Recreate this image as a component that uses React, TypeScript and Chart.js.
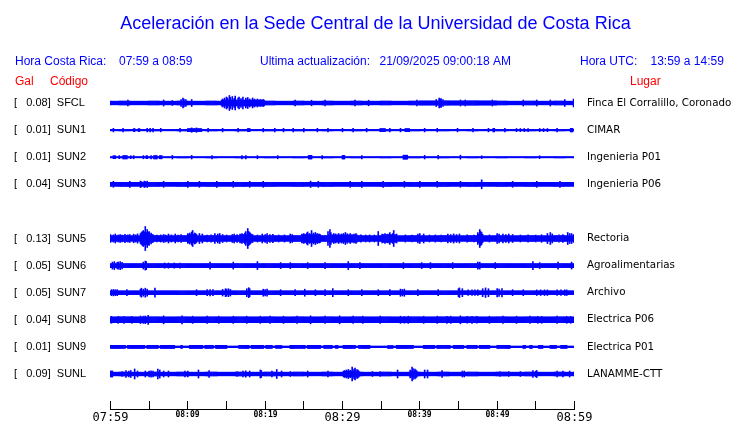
import React, { useEffect, useRef } from 'react';
import { Chart, registerables } from 'chart.js';

Chart.register(...registerables);

// ---------- texts ----------
const TITLE = 'Aceleración en la Sede Central de la Universidad de Costa Rica';
const HEADER_CR_LABEL = 'Hora Costa Rica:';
const HEADER_CR_RANGE = '07:59 a 08:59';
const HEADER_UPDATE_LABEL = 'Ultima actualización:';
const HEADER_UPDATE_VALUE = '21/09/2025 09:00:18 AM';
const HEADER_UTC_LABEL = 'Hora UTC:';
const HEADER_UTC_RANGE = '13:59 a 14:59';
const COL_GAL = 'Gal';
const COL_CODE = 'Código';
const COL_PLACE = 'Lugar';

// ---------- stations ----------
const CODES = ['SFCL', 'SUN1', 'SUN2', 'SUN3', 'SUN5', 'SUN6', 'SUN7', 'SUN8', 'SUN9', 'SUNL'];
const GAL = [0.08, 0.01, 0.01, 0.04, 0.13, 0.05, 0.05, 0.04, 0.01, 0.09];
const PLACES = [
  'Finca El Corralillo, Coronado',
  'CIMAR',
  'Ingenieria P01',
  'Ingenieria P06',
  'Rectoria',
  'Agroalimentarias',
  'Archivo',
  'Electrica P06',
  'Electrica P01',
  'LANAMME-CTT',
];
// row slot of each trace (slot 4, SUN4, is empty)
const ROWS = [0, 1, 2, 3, 5, 6, 7, 8, 9, 10];
// background (noise) half-amplitude of each trace, relative units
const BASE = [1.8, 0.7, 0.6, 2.0, 2.8, 2.0, 1.9, 2.9, 0.8, 1.8];

// time axis: minutes after 07:59
const X_TICK_MINUTES = [0, 5, 10, 15, 20, 25, 30, 35, 40, 45, 50, 55, 60];
const X_TICK_LABELS = ['07:59', '', '08:09', '', '08:19', '', '08:29', '', '08:39', '', '08:49', '', '08:59'];
const X_TICK_MAJOR = [true, false, false, false, false, false, true, false, false, false, false, false, true];

// events: [minute, halfAmp] or [fromMinute, toMinute, halfAmp]
const SFCL_EVENTS = [
  [2.3, 3], [6.9, 3], [8.1, 2.5], [9.2, 3.5], [9.4, 5], [9.6, 4], [9.8, 3.5], [10.5, 3.5],
  [14.4, 20.0, 3.0], [14.5, 4], [14.8, 5], [15.0, 6], [15.2, 5], [15.4, 7.5], [15.6, 5.5], [15.8, 6.5],
  [16.0, 4.5], [16.2, 7], [16.5, 5], [16.7, 6], [16.9, 4.5], [17.2, 6], [17.5, 5], [17.8, 5.5],
  [18.1, 4], [18.4, 5], [18.7, 4], [19.0, 4], [19.4, 3.5], [19.8, 3.5],
  [23.9, 2.8], [26.1, 2.8], [27.8, 2.8], [31.7, 2.8], [33.4, 2.8], [39.7, 3], [40, 50, 2.1],
  [42.2, 3.5], [42.5, 5], [42.7, 3.8], [42.8, 4.5], [43.0, 3.5], [45.3, 3], [45.9, 3], [49.4, 3],
  [53.4, 3], [55.2, 3], [56.9, 3], [58.8, 3.5], [59.9, 4],
];
const SUN1_EVENTS = [
  [0.4, 1.8], [1.7, 1.8], [3.0, 3.3, 1.5], [3.6, 3.9, 1.5], [4.8, 1.8], [5.2, 1.8], [5.6, 1.8], [6.5, 1.8],
  [9.1, 1.8], [10.0, 11.9, 1.5], [10.5, 2.2], [11.2, 2.2], [12.7, 1.8], [14.5, 1.8], [16.6, 1.8],
  [17.7, 18.1, 1.6], [19.8, 1.8], [21.3, 1.8], [22.4, 1.8], [23.7, 1.8], [25.0, 1.8], [26.8, 1.8],
  [28.2, 1.8], [30.0, 1.8], [31.4, 1.8], [33.2, 1.8], [34.9, 35.6, 1.6], [36.2, 1.8], [37.5, 1.8],
  [38.1, 38.8, 1.5], [40.7, 1.8], [42.3, 1.8], [44.9, 1.8], [46.9, 1.8], [48.9, 1.8], [49.5, 49.8, 1.8],
  [51.1, 1.8], [52.6, 1.6], [53.0, 1.6], [53.5, 1.6], [54.0, 1.6], [55.6, 1.6], [56.1, 1.6], [56.5, 1.6],
  [57.8, 1.8], [59.5, 59.9, 1.8],
];
const SUN2_EVENTS = [
  [0.4, 0.8, 1.5], [1.1, 1.3, 1.5], [1.6, 2.3, 1.6], [2.6, 2.8, 1.5], [3.1, 1.6], [4.3, 1.6],
  [4.6, 4.9, 1.5], [5.3, 1.6], [5.6, 6.1, 1.6], [6.4, 6.8, 1.6], [8.0, 1.8], [10.6, 1.8], [13.2, 1.6],
  [17.1, 1.6], [17.6, 1.6], [19.1, 1.6], [21.7, 1.6], [25.6, 26.1, 1.8], [27.4, 1.6], [30.0, 30.4, 1.8],
  [32.6, 1.6], [37.9, 38.5, 2.0], [40.7, 1.8], [42.4, 1.8], [45.3, 2.0], [48.0, 1.4], [55.6, 1.4],
];
const SUN3_EVENTS = [
  [0.4, 3], [2.6, 3], [3.9, 3.2], [4.1, 2.7], [4.4, 3.2], [4.6, 2.7], [4.8, 3.2], [6.9, 3], [10.0, 3],
  [11.6, 3], [13.8, 3], [15.9, 3], [18.1, 3], [19.8, 3], [25.9, 3.2], [26.9, 3], [31.0, 3], [32.6, 3],
  [35.3, 3], [38.1, 3], [40.1, 3], [42.3, 3], [45.3, 3], [48.1, 4.5], [52.0, 3], [55.2, 3], [58.2, 3],
];
const SUN5_EVENTS = [
  [3.9, 5.5, 4.0], [10.1, 11.2, 4.0], [16.8, 18.4, 3.8], [24.8, 27.2, 4.0], [28.2, 32.0, 3.6],
  [35.2, 37.1, 3.8], [47.5, 48.3, 4.2],
  [0.1, 4], [0.4, 3.6], [0.7, 4.5], [1.0, 3.5], [1.3, 4], [1.6, 3.4], [1.9, 4.2], [2.3, 3.6], [2.6, 4],
  [3.0, 4.3], [3.3, 3.6], [3.6, 4.6], [3.9, 5],
  [4.1, 6], [4.2, 7], [4.3, 8], [4.4, 6.5], [4.5, 12], [4.6, 9], [4.7, 6], [4.8, 9], [4.9, 6.5], [5.0, 7],
  [5.1, 5], [5.3, 5.5], [5.5, 4],
  [6.0, 3.5], [6.5, 3.6], [6.9, 4], [7.2, 3.5], [7.5, 4.5], [7.9, 3.6], [8.4, 4.5], [8.8, 3.5], [9.2, 4],
  [10.1, 5], [10.3, 5.5], [10.5, 6.5], [10.7, 8], [10.9, 5.5], [11.1, 5], [11.6, 5], [11.9, 4.5],
  [12.5, 3.5], [13.0, 3.6], [13.6, 5], [13.9, 4.5], [14.2, 5], [14.5, 4], [15.0, 3.5], [15.8, 4],
  [16.1, 4.5], [16.4, 3.8],
  [16.8, 4.5], [17.1, 5], [17.4, 5.5], [17.6, 7], [17.8, 10], [17.9, 7], [18.0, 6], [18.2, 5], [18.4, 4],
  [19.0, 3.5], [19.7, 4.5], [20.0, 4], [20.3, 4.8], [20.7, 4], [21.1, 4.2], [21.8, 3.5], [22.5, 3.6],
  [23.3, 4.5], [23.6, 4],
  [24.8, 4.5], [25.1, 5], [25.4, 5.5], [25.6, 6.5], [25.8, 5], [26.1, 8], [26.3, 5.5], [26.5, 6],
  [26.8, 5], [27.1, 4.5],
  [28.2, 7], [28.4, 9], [28.6, 6], [28.9, 5], [29.2, 4.5], [29.5, 5], [29.9, 4.5], [30.2, 5], [30.4, 6],
  [30.7, 4.8], [31.1, 5], [31.5, 4.5], [31.8, 4.8],
  [32.4, 3.6], [33.0, 3.5], [33.6, 3.6], [34.2, 3.5], [34.7, 7],
  [35.2, 4.5], [35.5, 5], [35.9, 4.5], [36.2, 6], [36.5, 5], [36.7, 8], [37.0, 4.5],
  [38.2, 3.6], [39.0, 3.5], [39.8, 4.5], [40.1, 5], [40.5, 4.5], [41.3, 3.5], [42.0, 3.6], [42.8, 3.5],
  [43.7, 4.5], [44.0, 4], [44.4, 4.6], [44.8, 4], [45.2, 4.5], [46.2, 3.6], [47.0, 3.5],
  [47.6, 6], [47.8, 9], [47.9, 7], [48.1, 6],
  [49.0, 3.6], [50.0, 5], [50.3, 4.5], [50.8, 4.5], [51.2, 4], [51.6, 4.5], [52.0, 4], [53.0, 3.5],
  [54.0, 3.6], [55.0, 3.5], [55.8, 3.8], [56.6, 5], [56.9, 6], [57.2, 4.5], [58.0, 3.6], [58.6, 4],
  [59.2, 6], [59.4, 5], [59.7, 5], [59.9, 4],
];
const SUN6_EVENTS = [
  [0.3, 3.5], [0.6, 4], [0.9, 3.2], [1.1, 3.6], [1.3, 4], [1.6, 3.2], [4.3, 3.5], [4.5, 4.5], [4.7, 4],
  [7.0, 2.6], [7.6, 2.6], [8.3, 2.6], [9.0, 2.6], [12.9, 3.5], [15.9, 3.5], [19.1, 4], [22.0, 3],
  [23.3, 3], [25.6, 3], [27.8, 3], [30.8, 4], [32.3, 3], [37.9, 3], [40.3, 3], [41.4, 3], [44.3, 3],
  [47.5, 3.5], [47.8, 3.5], [49.8, 3], [54.7, 4], [55.6, 3], [57.9, 3.5], [59.7, 3.5],
];
const SUN7_EVENTS = [
  [0.2, 3], [0.4, 3.2], [0.7, 3], [0.9, 3], [2.2, 3], [3.9, 3.5], [4.1, 4.5], [4.3, 3.5], [4.6, 4.5],
  [4.8, 3.5], [5.8, 4.5], [11.2, 3], [12.5, 3], [12.9, 3.2], [13.3, 3], [14.5, 3.3], [14.9, 4],
  [15.1, 3.5], [15.3, 4], [15.5, 3.3], [17.7, 4], [17.9, 5], [18.1, 4], [19.8, 3.5], [20.1, 3.2],
  [20.3, 3.5], [22.0, 3], [23.9, 3], [25.2, 3.5], [26.5, 3], [27.8, 3], [28.8, 4], [30.8, 3], [32.6, 3],
  [34.7, 3], [36.2, 3], [37.5, 3.6], [37.8, 3.2], [38.1, 3.6], [39.8, 3], [42.4, 3], [45.0, 4],
  [45.2, 4.8], [45.5, 4], [46.3, 2.8], [46.8, 2.8], [47.2, 2.8], [47.5, 2.8], [48.2, 4], [48.5, 4.8],
  [48.9, 4], [50.0, 4.2], [50.3, 3.6], [50.7, 4.2], [52.0, 3], [53.4, 3], [55.2, 2.8], [55.7, 2.8],
  [56.2, 2.8], [56.5, 2.8], [57.8, 2.8], [58.3, 2.8], [58.8, 2.8], [59.1, 2.8],
];
const SUN8_EVENTS = [
  [0.2, 3.5], [1.0, 3.5], [1.8, 3.5], [2.8, 3.5], [3.9, 3.8], [4.3, 3.6], [4.6, 3.8], [4.9, 4.5],
  [6.9, 4], [9.3, 4], [10.7, 3.6], [12.5, 3.6], [14.0, 3.6], [15.9, 3.6], [17.7, 3.6], [19.4, 3.6],
  [20.7, 3.6], [22.4, 3.6], [24.2, 3.6], [25.9, 4], [27.8, 3.6], [29.7, 4], [31.4, 3.6], [32.7, 3.6],
  [34.9, 3.6], [37.5, 3.6], [38.0, 3.4], [38.5, 3.6], [40.5, 3.6], [42.3, 3.6], [43.6, 3.5], [44.1, 3.6],
  [45.3, 4], [46.2, 3.4], [46.8, 3.5], [47.4, 3.4], [49.1, 3.6], [50.8, 3.6], [52.6, 3.6], [54.3, 3.6],
  [55.3, 3.5], [55.8, 3.5], [57.8, 3.6], [59.1, 3.5], [59.6, 3.5],
];
const SUN9_EVENTS = [
  [0.0, 2.0, 1.6], [2.2, 4.5, 1.6], [4.7, 6.3, 1.6], [6.5, 8.4, 1.6], [9.1, 9.4, 1.6], [10.3, 12.0, 1.6],
  [12.2, 13.4, 1.6], [13.6, 15.1, 1.6], [16.6, 18.0, 1.6], [18.3, 19.9, 1.6], [20.1, 21.0, 1.6],
  [21.4, 22.2, 1.4], [23.3, 25.2, 1.6], [25.5, 27.3, 1.6], [27.6, 28.8, 1.6], [29.1, 29.5, 1.5],
  [30.1, 31.8, 1.6], [32.1, 33.6, 1.6], [35.9, 36.6, 1.4], [37.0, 39.2, 1.6], [40.5, 42.0, 1.6],
  [42.3, 44.0, 1.6], [44.4, 45.8, 1.6], [46.1, 47.5, 1.6], [47.8, 49.1, 1.6], [50.0, 51.7, 1.6],
  [53.4, 53.7, 1.5], [54.2, 54.6, 1.5], [55.4, 56.0, 1.5], [56.9, 57.8, 1.5], [58.3, 59.1, 1.5],
];
const SUNL_EVENTS = [
  [0.0, 0.4, 3], [1.5, 2.5], [2.1, 3.5], [2.4, 3], [2.7, 3.5], [3.2, 5], [3.6, 3], [4.5, 3], [5.0, 3],
  [5.3, 3.2], [5.6, 3], [6.2, 5], [6.4, 4], [6.9, 3], [7.5, 3], [9.7, 3], [10.0, 3], [11.4, 4],
  [12.7, 12.9, 3.5], [16.4, 2.5], [17.2, 3], [17.6, 3.2], [18.0, 3], [19.4, 4], [19.6, 3.5], [20.9, 3],
  [21.6, 4.5], [22.2, 3], [23.3, 2.5], [25.5, 25.6, 3], [28.2, 3],
  [30.1, 32.3, 2.8], [30.3, 3.5], [30.6, 4], [30.8, 4.5], [31.0, 3.8], [31.3, 7], [31.5, 5], [31.7, 6],
  [31.9, 4.5], [32.1, 4], [33.9, 2.5], [34.9, 2.5], [37.1, 37.2, 4], [38.8, 39.7, 2.8], [38.8, 4],
  [39.0, 7], [39.2, 5.5], [39.4, 5], [39.6, 4], [40.7, 4], [41.1, 4], [42.9, 3.5], [45.5, 3], [45.8, 3],
  [50.4, 2.5], [51.5, 2.5], [53.0, 2.5], [54.7, 3.5], [55.0, 3], [55.2, 3.5], [57.8, 3], [58.6, 3],
  [59.4, 3],
];
const EVENTS = [
  SFCL_EVENTS, SUN1_EVENTS, SUN2_EVENTS, SUN3_EVENTS, SUN5_EVENTS,
  SUN6_EVENTS, SUN7_EVENTS, SUN8_EVENTS, SUN9_EVENTS, SUNL_EVENTS,
];

// ---------- styling / layout ----------
const BLUE = '#0000ff';
const RED = '#ff0000';
const SANS = '"Liberation Sans", Arial, Helvetica, sans-serif';
const DEJAVU = '"DejaVu Sans", sans-serif';
const MONO = '"DejaVu Sans Mono", monospace';
const STEP = 0.125; // minutes per drawn column
const NBINS = 480;
const SLOT = 27.1;

function buildTrace(k: number) {
  const amps: number[] = new Array(NBINS).fill(BASE[k]);
  for (const ev of EVENTS[k]) {
    if (ev.length === 2) {
      const i = Math.min(NBINS - 1, Math.floor(ev[0] / STEP));
      amps[i] = Math.max(amps[i], ev[1]);
    } else {
      for (let i = 0; i < NBINS; i++) {
        const tc = (i + 0.5) * STEP;
        if (tc >= ev[0] - 1e-9 && tc <= ev[1] + 1e-9) amps[i] = Math.max(amps[i], ev[2]);
      }
    }
  }
  const c = ROWS[k] * SLOT;
  return amps.map((a, i) => ({ x: (i + 0.5) * STEP, y: [c - a, c + a] }));
}

const overlayPlugin = {
  id: 'overlay',
  afterDraw(chart: any) {
    const ctx = chart.ctx as CanvasRenderingContext2D;
    const xs = chart.scales.x;
    const { left, right } = chart.chartArea;
    const axisY = 409;
    ctx.save();
    // time axis line, upward ticks and labels
    ctx.strokeStyle = '#000';
    ctx.lineWidth = 1;
    ctx.beginPath();
    ctx.moveTo(left, axisY + 0.5);
    ctx.lineTo(right + 1, axisY + 0.5);
    ctx.stroke();
    ctx.fillStyle = '#000';
    ctx.textAlign = 'center';
    ctx.textBaseline = 'alphabetic';
    X_TICK_MINUTES.forEach((v, i) => {
      const px = Math.round(xs.getPixelForValue(v)) + 0.5;
      ctx.beginPath();
      ctx.moveTo(px, axisY - 8);
      ctx.lineTo(px, axisY + 1);
      ctx.stroke();
      const lab = X_TICK_LABELS[i];
      if (lab) {
        if (X_TICK_MAJOR[i]) {
          ctx.font = `12px ${MONO}`;
          ctx.fillText(lab, px, 420.5);
        } else {
          ctx.font = `bold 8px ${MONO}`;
          ctx.fillText(lab, px, 417);
        }
      }
    });
    // title & headers
    ctx.fillStyle = BLUE;
    ctx.font = `18px ${SANS}`;
    ctx.textAlign = 'center';
    ctx.fillText(TITLE, 375.5, 29);
    ctx.textAlign = 'left';
    ctx.font = `12px ${SANS}`;
    ctx.fillText(HEADER_CR_LABEL, 15, 65);
    ctx.fillText(HEADER_CR_RANGE, 119, 65);
    ctx.fillText(HEADER_UPDATE_LABEL, 260, 65);
    ctx.fillText(HEADER_UPDATE_VALUE, 379.5, 65);
    ctx.fillText(HEADER_UTC_LABEL, 580, 65);
    ctx.fillText(HEADER_UTC_RANGE, 650.5, 65);
    ctx.fillStyle = RED;
    ctx.fillText(COL_GAL, 15, 85);
    ctx.fillText(COL_CODE, 50, 85);
    ctx.fillText(COL_PLACE, 630, 85);
    ctx.restore();
  },
};

export default function App() {
  const ref = useRef<HTMLCanvasElement | null>(null);
  useEffect(() => {
    if (!ref.current) return;
    const stationTicks = (s: any) => {
      s.ticks = ROWS.map((r) => ({ value: r * SLOT }));
    };
    const fitSide = (w: number) => (s: any) => {
      s.width = w;
      s.paddingTop = 0;
      s.paddingBottom = 0;
    };
    const chart = new Chart(ref.current, {
      type: 'bar',
      data: {
        datasets: CODES.map((code, k) => ({
          label: code,
          data: buildTrace(k) as any,
          backgroundColor: BLUE,
          borderWidth: 0,
          barPercentage: 1,
          categoryPercentage: 1,
          grouped: false,
          xAxisID: 'x',
          yAxisID: 'y',
        })),
      },
      options: {
        animation: false,
        responsive: false,
        events: [],
        layout: { padding: { top: 89, left: 14, right: 0, bottom: 13 } },
        plugins: {
          legend: { display: false },
          tooltip: { enabled: false },
          title: { display: false },
        },
        scales: {
          x: {
            type: 'linear',
            display: false,
            min: 0,
            max: 60,
            offset: false,
          },
          y: {
            type: 'linear',
            position: 'left',
            reverse: true,
            min: -14,
            max: 307,
            grid: { display: false, drawTicks: false },
            border: { display: false },
            afterBuildTicks: stationTicks,
            ticks: {
              autoSkip: false,
              crossAlign: 'far',
              padding: 0,
              color: '#000',
              font: { family: SANS, size: 11 },
              callback: (_v: any, i: number) => `[   ${GAL[i].toFixed(2)}]  ${CODES[i]}`,
            },
            afterFit: fitSide(96),
          },
          yR: {
            type: 'linear',
            position: 'right',
            reverse: true,
            min: -14,
            max: 307,
            grid: { display: false, drawTicks: false },
            border: { display: false },
            afterBuildTicks: stationTicks,
            ticks: {
              autoSkip: false,
              crossAlign: 'near',
              padding: 13,
              color: '#000',
              font: { family: DEJAVU, size: 10.3 },
              callback: (_v: any, i: number) => PLACES[i],
            },
            afterFit: fitSide(166),
          },
        },
      } as any,
      plugins: [overlayPlugin],
    });
    return () => chart.destroy();
  }, []);
  return (
    <div style={{ position: 'fixed', left: 0, top: 0, width: 740, height: 423, background: '#fff' }}>
      <canvas ref={ref} width={740} height={423} style={{ display: 'block' }} />
    </div>
  );
}
